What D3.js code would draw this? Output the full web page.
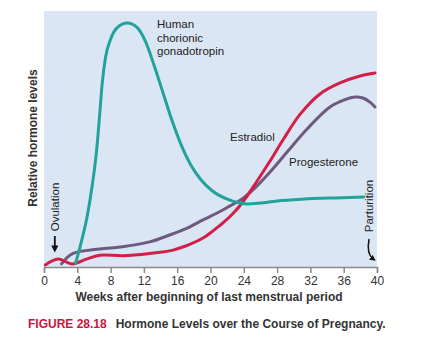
<!DOCTYPE html>
<html>
<head>
<meta charset="utf-8">
<script src="https://cdn.jsdelivr.net/npm/d3@7"></script>
<style>
  html, body { margin: 0; padding: 0; background: #ffffff; }
  svg { display: block; font-family: "Liberation Sans", Arial, sans-serif; }
</style>
</head>
<body>
<svg id="chart" width="441" height="343"></svg>
<script>
// Weeks after the beginning of the last menstrual period
const xTicks = [0, 4, 8, 12, 16, 20, 24, 28, 32, 36, 40];

// Relative hormone levels (0 = baseline, 100 = top of the panel)
const hcgWeeks  = [3.8, 4.5, 5.2, 5.8, 6.3, 6.7, 7.0, 7.4, 8.0, 8.8, 10.0, 11.2, 12.2, 13.2, 14.3, 15.4, 16.5, 17.6, 18.8, 20.2, 21.8, 23.5, 24.5, 26, 28, 31, 35, 38.4];
const hcgLevels = [1.5, 10, 20, 32, 45, 60, 72, 82, 89, 93.5, 95.3, 93.5, 88, 79, 68, 57, 47.5, 40, 34.3, 29.8, 26.8, 25, 24.6, 25, 25.8, 26.5, 27, 27.3];

const estradiolWeeks  = [0.15, 1.7, 3.4, 5.0, 6.7, 9.5, 12.7, 15.5, 17.5, 19.1, 20.3, 21.5, 22.7, 23.8, 25.6, 27.15, 28.7, 30.75, 33.15, 35.55, 37.96, 39.76];
const estradiolLevels = [0.8, 3.1, 1.2, 3.0, 4.6, 4.4, 5.3, 6.6, 8.8, 11.3, 14.1, 17.2, 20.9, 25, 33.6, 41.4, 49.6, 59.6, 67.6, 71.9, 74.6, 75.8];

const progesteroneWeeks  = [2.1, 2.8, 3.5, 4.5, 6, 8, 10, 12.7, 15.1, 17.2, 19.1, 20.8, 22.3, 23.8, 25.35, 27.15, 29.2, 31.6, 34.35, 36.15, 37.35, 38.3, 39.15, 39.76];
const progesteroneLevels = [1.2, 3.8, 5.3, 6.2, 6.8, 7.4, 8.2, 9.8, 12.5, 15.2, 18.4, 21.1, 23.8, 26.6, 30.9, 37.1, 44.9, 53.9, 62.5, 65.4, 66.4, 66.0, 64.4, 62.5];

const seriesNames  = ["Human chorionic gonadotropin", "Estradiol", "Progesterone"];
const seriesColors = ["#22a39a", "#d21f48", "#6f5a7f"];

const svg = d3.select("#chart");
const plot = { left: 44, right: 377, top: 11, bottom: 267 };

const x = d3.scaleLinear().domain([0, 40]).range([plot.left, plot.right]);
const y = d3.scaleLinear().domain([0, 100]).range([plot.bottom, plot.top]);

// panel background
svg.append("rect")
  .attr("x", plot.left).attr("y", plot.top)
  .attr("width", plot.right - plot.left)
  .attr("height", plot.bottom - plot.top)
  .attr("fill", "#dae6f3");

// curves: the steep hCG surge keeps a monotone spline, the steroids a smooth Catmull-Rom
const monoLine = d3.line()
  .x(d => x(d[0]))
  .y(d => y(d[1]))
  .curve(d3.curveMonotoneX);

const smoothLine = d3.line()
  .x(d => x(d[0]))
  .y(d => y(d[1]))
  .curve(d3.curveCatmullRom.alpha(0.5));

const series = [
  { data: d3.zip(hcgWeeks, hcgLevels), gen: monoLine },
  { data: d3.zip(estradiolWeeks, estradiolLevels), gen: smoothLine },
  { data: d3.zip(progesteroneWeeks, progesteroneLevels), gen: smoothLine }
];

// draw order: progesterone, estradiol, then hCG on top
[2, 1, 0].forEach(i => {
  svg.append("path")
    .datum(series[i].data)
    .attr("d", series[i].gen)
    .attr("fill", "none")
    .attr("stroke", seriesColors[i])
    .attr("stroke-width", 3)
    .attr("stroke-linecap", "round")
    .attr("stroke-linejoin", "round");
});

// x axis
const xAxis = d3.axisBottom(x)
  .tickValues(xTicks)
  .tickSize(6)
  .tickPadding(3)
  .tickFormat(d3.format("d"));

const gx = svg.append("g")
  .attr("transform", `translate(0,${plot.bottom})`)
  .call(xAxis);
gx.select(".domain").attr("stroke", "#8a8a8a").attr("stroke-width", 1.5);
gx.selectAll(".tick line").attr("stroke", "#8a8a8a").attr("stroke-width", 1.5);
gx.selectAll(".tick text")
  .attr("fill", "#333")
  .attr("font-size", 12)
  .attr("font-family", "Liberation Sans, Arial, sans-serif");

// axis titles
svg.append("text")
  .attr("x", 209).attr("y", 301)
  .attr("text-anchor", "middle")
  .attr("font-size", 12).attr("font-weight", "bold").attr("fill", "#333")
  .text("Weeks after beginning of last menstrual period");

svg.append("text")
  .attr("transform", `translate(37,${138}) rotate(-90)`)
  .attr("text-anchor", "middle")
  .attr("font-size", 12).attr("font-weight", "bold").attr("fill", "#333")
  .text("Relative hormone levels");

// series labels
const hcgLabel = svg.append("text")
  .attr("x", 157).attr("y", 28)
  .attr("font-size", 11.5).attr("fill", "#222");
["Human", "chorionic", "gonadotropin"].forEach((t, i) => {
  hcgLabel.append("tspan").attr("x", 157).attr("dy", i === 0 ? 0 : 13.5).text(t);
});

svg.append("text")
  .attr("x", 230).attr("y", 141)
  .attr("font-size", 11.5).attr("fill", "#222")
  .text(seriesNames[1]);

svg.append("text")
  .attr("x", 289).attr("y", 166)
  .attr("font-size", 11.5).attr("fill", "#222")
  .text(seriesNames[2]);

// ovulation marker
svg.append("text")
  .attr("transform", `translate(${x(1.3) + 4.5},${207}) rotate(-90)`)
  .attr("text-anchor", "middle")
  .attr("font-size", 11.5).attr("fill", "#222")
  .text("Ovulation");

svg.append("defs").append("marker")
  .attr("id", "head")
  .attr("viewBox", "0 0 10 10")
  .attr("refX", 5).attr("refY", 5)
  .attr("markerWidth", 4).attr("markerHeight", 4)
  .attr("orient", "auto")
  .append("path")
  .attr("d", "M0,0 L10,5 L0,10 Z")
  .attr("fill", "#111");

svg.append("line")
  .attr("x1", x(1.3)).attr("y1", 236)
  .attr("x2", x(1.3)).attr("y2", 249)
  .attr("stroke", "#111").attr("stroke-width", 1.8)
  .attr("marker-end", "url(#head)");

// parturition marker
svg.append("text")
  .attr("transform", `translate(${x(40) - 4.5},${206}) rotate(-90)`)
  .attr("text-anchor", "middle")
  .attr("font-size", 11.5).attr("fill", "#222")
  .text("Parturition");

svg.append("path")
  .attr("d", `M${x(39.05)},239 Q${x(38.7)},254 ${x(39.55)},259`)
  .attr("fill", "none")
  .attr("stroke", "#111").attr("stroke-width", 1.5)
  .attr("marker-end", "url(#head)");

// caption
const caption = svg.append("text")
  .attr("x", 28).attr("y", 328)
  .attr("font-size", 12).attr("font-weight", "bold");
caption.append("tspan").attr("fill", "#c8163c").text("FIGURE 28.18");
caption.append("tspan").attr("fill", "#333").attr("dx", 9)
  .text("Hormone Levels over the Course of Pregnancy.");
</script>
</body>
</html>
